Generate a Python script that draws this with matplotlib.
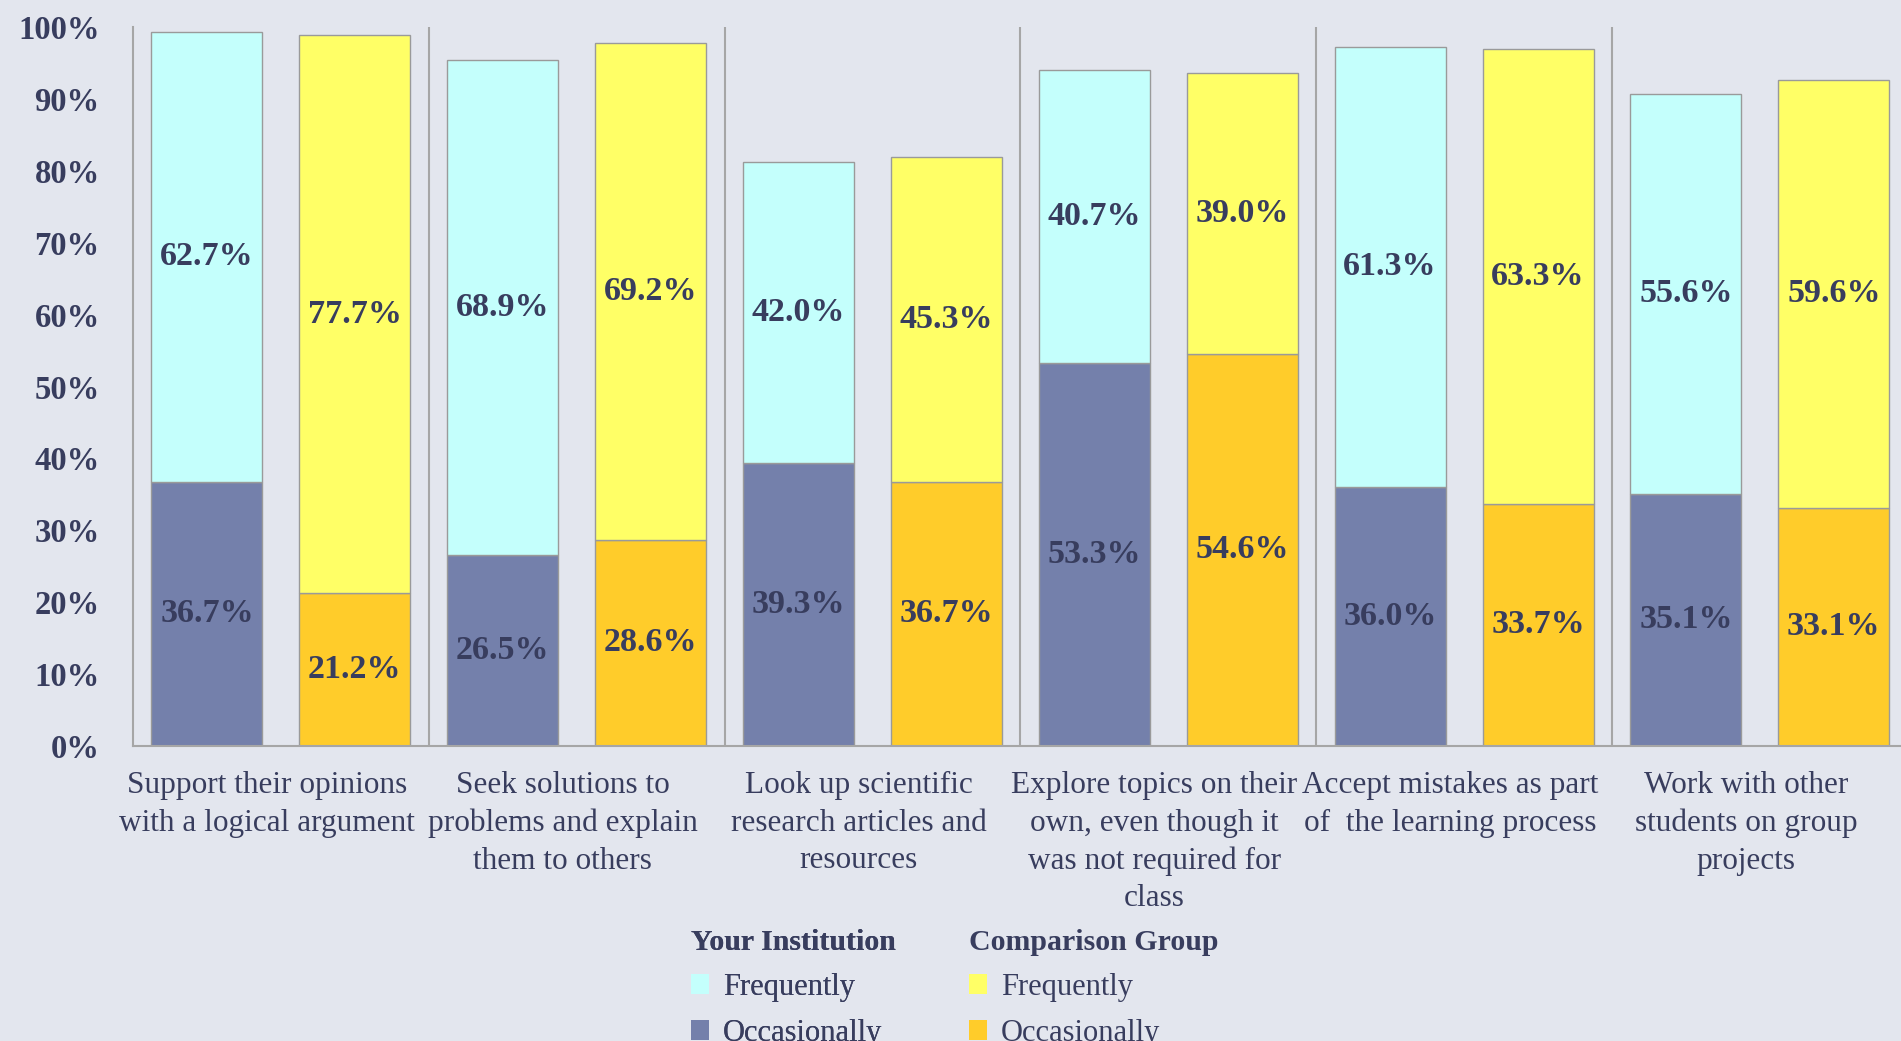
import matplotlib
matplotlib.use("Agg")
import matplotlib.pyplot as plt
from matplotlib.patches import Patch
import matplotlib.transforms as mtransforms

plt.rcParams['font.family'] = ['Liberation Serif', 'DejaVu Serif']

categories = [
    "Support their opinions\nwith a logical argument",
    "Seek solutions to\nproblems and explain\nthem to others",
    "Look up scientific\nresearch articles and\nresources",
    "Explore topics on their\nown, even though it\nwas not required for\nclass",
    "Accept mistakes as part\nof  the learning process",
    "Work with other\nstudents on group\nprojects",
]
your_occasionally = [36.7, 26.5, 39.3, 53.3, 36.0, 35.1]
your_frequently = [62.7, 68.9, 42.0, 40.7, 61.3, 55.6]
comp_occasionally = [21.2, 28.6, 36.7, 54.6, 33.7, 33.1]
comp_frequently = [77.7, 69.2, 45.3, 39.0, 63.3, 59.6]
y_ticks = [0, 10, 20, 30, 40, 50, 60, 70, 80, 90, 100]
y_tick_labels = [f"{t}%" for t in y_ticks]

BG = "#e3e6ee"
TEXT = "#383d5e"
C_YF = "#c4fffc"
C_YO = "#7480ab"
C_CF = "#ffff66"
C_CO = "#ffcc2a"
EDGE = "#9a9a9a"

W, H = 1901, 1041
fig = plt.figure(figsize=(W / 100, H / 100), dpi=100, facecolor=BG)
ax = fig.add_axes([133 / W, 1 - 745.7 / H, (W - 133) / W, (745.7 - 27.4) / H])
ax.set_facecolor(BG)

n = len(categories)
x = list(range(n))
bw = 0.375
off = 0.25
xl = [i - off for i in x]
xr = [i + off for i in x]

b1 = ax.bar(xl, your_occasionally, bw, color=C_YO, edgecolor=EDGE, linewidth=1)
b2 = ax.bar(xl, your_frequently, bw, bottom=your_occasionally, color=C_YF, edgecolor=EDGE, linewidth=1)
b3 = ax.bar(xr, comp_occasionally, bw, color=C_CO, edgecolor=EDGE, linewidth=1)
b4 = ax.bar(xr, comp_frequently, bw, bottom=comp_occasionally, color=C_CF, edgecolor=EDGE, linewidth=1)

for bars in (b1, b2, b3, b4):
    ax.bar_label(bars, labels=[f"{b.get_height():.1f}%" for b in bars], label_type='center',
                 fontsize=24.5, fontweight='bold', color=TEXT)

ax.set_xlim(-0.5, (W - 133) / 295.8 - 0.5)
ax.set_ylim(0, 100)
ax.set_yticks(y_ticks)
ax.set_yticklabels(y_tick_labels, fontsize=23.5, fontweight='bold', color=TEXT)
ax.tick_params(axis='y', length=0, pad=24)
ax.set_xticks([])

for s in ('top', 'right'):
    ax.spines[s].set_visible(False)
for s in ('left', 'bottom'):
    ax.spines[s].set_color("#a6a6a6")
    ax.spines[s].set_linewidth(1.5)
for i in range(1, n + 1):
    ax.axvline(i - 0.5, color="#a6a6a6", linewidth=1.5, zorder=0)

shift = mtransforms.ScaledTranslation(-14 / 100, -4 / 100, fig.dpi_scale_trans)
for i, lab in enumerate(categories):
    ax.text(i, -3.0, lab, ha='center', va='top', fontsize=22.5, color=TEXT,
            linespacing=1.38, transform=ax.transData + shift)

common = dict(loc='upper left', frameon=False, fontsize=22, alignment='left',
              title_fontproperties={'weight': 'bold', 'size': 21.5},
              handlelength=0.6, handleheight=0.6, handletextpad=0.45,
              labelspacing=0.55, borderpad=0, borderaxespad=0)

leg1 = fig.legend(handles=[Patch(facecolor=C_YF), Patch(facecolor=C_YO)],
                  labels=["Frequently", "Occasionally"], title="Your Institution",
                  bbox_to_anchor=(691 / W, 1 - 929 / H), **common)
for t in leg1.get_texts():
    t.set_color(TEXT)
leg1.get_title().set_color(TEXT)
fig.add_artist(leg1)

leg2 = fig.legend(handles=[Patch(facecolor=C_CF), Patch(facecolor=C_CO)],
                  labels=["Frequently", "Occasionally"], title="Comparison Group",
                  bbox_to_anchor=(969 / W, 1 - 929 / H), **common)
for t in leg2.get_texts():
    t.set_color(TEXT)
leg2.get_title().set_color(TEXT)

fig.savefig("out.png", dpi=100, facecolor=BG)
